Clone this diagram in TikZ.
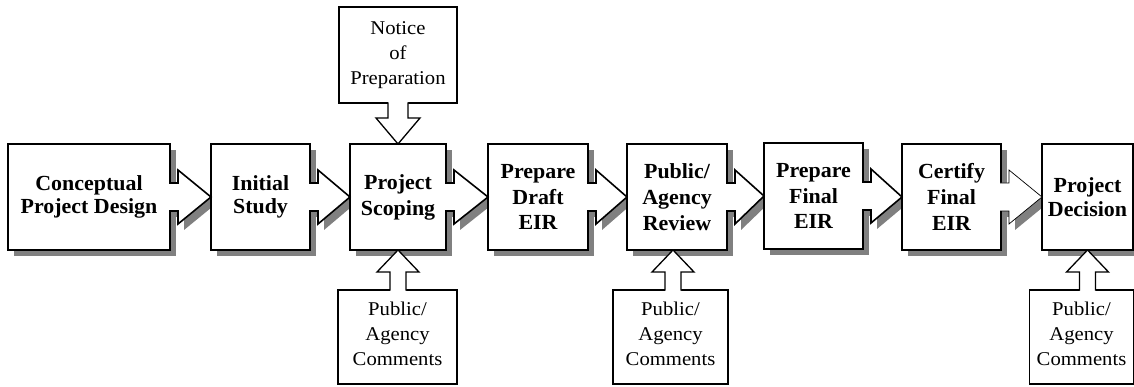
\documentclass[tikz,border=0pt]{standalone}
\usepackage{fontspec}
\setmainfont{Liberation Serif}
\newfontfamily\callfont[FakeStretch=1.06]{Liberation Serif}
\newfontfamily\boxfont[FakeStretch=1.02]{Liberation Serif}
\usetikzlibrary{calc}
\pgfdeclarelayer{bg}
\pgfsetlayers{bg,main}
\tikzset{
  mainbox/.style={draw=black, line width=1.6pt, fill=white, rectangle, inner sep=0pt, outer sep=0pt,
    minimum height=106pt, align=center, font=\boxfont\bfseries\fontsize{21.5}{23.5}\selectfont},
  threeline/.style={font=\boxfont\bfseries\fontsize{21.5}{25.8}\selectfont},
  callbox/.style={draw=black, line width=1.3pt, fill=white, rectangle, inner sep=0pt, outer sep=0pt,
    align=center, font=\callfont\fontsize{19.5}{25}\selectfont},
  shadowfill/.style={fill=black!50},
  arrowline/.style={draw=black, line join=miter},
}
\newcommand\harrow[3][1.6pt]{%
  \begin{pgfonlayer}{bg}
    \fill[shadowfill, transform canvas={shift={(6pt,-6pt)}}] ($(#2.east)+(-1,-14)$) -- ++(9,0) -- ++(0,-13) -- (#3.west) -- ($(#2.east)+(8,27)$) -- ++(0,-13) -- ++(-9,0) -- cycle;
  \end{pgfonlayer}
  \fill[white] ($(#2.east)+(-1,-14)$) -- ++(9,0) -- ++(0,-13) -- (#3.west) -- ($(#2.east)+(8,27)$) -- ++(0,-13) -- ++(-9,0) -- cycle;
  \draw[arrowline, line width=#1] ($(#2.east)+(-0.8,-14)$) -- ++(8.8,0) -- ++(0,-13) -- (#3.west) -- ($(#2.east)+(8,27)$) -- ++(0,-13) -- ++(-8.8,0);
}
\newcommand\boxshadow[1]{%
  \begin{pgfonlayer}{bg}
    \fill[shadowfill] ($(#1.south west)+(6,6)$) rectangle ($(#1.north east)+(6,6)$);
  \end{pgfonlayer}
}
% arrow from a callout below up to a main box
\newcommand\uparrowc[3][0]{%
  \coordinate (#3p) at ($(#2.south |- #3.north)+(#1,0)$);
  \coordinate (#3t) at ($(#2.south)+(#1,0)$);
  \fill[white] ($(#3p)+(-8,1)$) -- ($(#3p)+(-8,-18)$) -- ($(#3p)+(-21,-18)$) -- (#3t) -- ($(#3p)+(21,-18)$) -- ($(#3p)+(8,-18)$) -- ($(#3p)+(8,1)$) -- cycle;
  \draw[arrowline, line width=1.3pt] ($(#3p)+(-8,0.65)$) -- ($(#3p)+(-8,-18)$) -- ($(#3p)+(-21,-18)$) -- (#3t) -- ($(#3p)+(21,-18)$) -- ($(#3p)+(8,-18)$) -- ($(#3p)+(8,0.65)$);
}
\begin{document}
\begin{tikzpicture}[x=1pt,y=-1pt]
\useasboundingbox (0,0) rectangle (1134,387);
\clip (0,0) rectangle (1134,387);
% main boxes
\node[mainbox, minimum width=162pt] (b1) at (89,197) {Conceptual\\Project Design};
\node[mainbox, minimum width=99pt] (b2) at (260.5,197) {Initial\\Study};
\node[mainbox, minimum width=96pt, font=\boxfont\bfseries\fontsize{21.5}{26}\selectfont] (b3) at (398,197) {Project\\Scoping};
\node[mainbox, threeline, minimum width=100pt] (b4) at (538,197) {Prepare\\Draft\\EIR};
\node[mainbox, threeline, minimum width=100pt] (b5) at (677,197) {Public/\\Agency\\Review};
\node[mainbox, threeline, minimum width=99pt] (b6) at (813.5,196) {Prepare\\Final\\EIR};
\node[mainbox, threeline, minimum width=99pt] (b7) at (951.5,197) {Certify\\Final\\EIR};
\node[mainbox, minimum width=91pt] (b8) at (1087.5,197) {Project\\Decision};
% callouts
\node[callbox, minimum width=118pt, minimum height=96pt] (n1) at (398,55) {Notice\\of\\Preparation};
\node[callbox, minimum width=119pt, minimum height=94pt, text depth=6pt] (c1) at (397.5,337) {Public/\\Agency\\Comments};
\node[callbox, minimum width=115pt, minimum height=94pt, text depth=6pt] (c2) at (670.5,337) {Public/\\Agency\\Comments};
\node[callbox, minimum width=104pt, minimum height=94pt, text depth=6pt] (c3) at (1081.5,337) {Public/\\Agency\\Comments};
% shadows
\boxshadow{b1}\boxshadow{b2}\boxshadow{b3}\boxshadow{b4}
\boxshadow{b5}\boxshadow{b6}\boxshadow{b7}\boxshadow{b8}
% horizontal arrows
\harrow{b1}{b2}
\harrow{b2}{b3}
\harrow{b3}{b4}
\harrow{b4}{b5}
\harrow{b5}{b6}
\harrow{b6}{b7}
\harrow[0.7pt]{b7}{b8}
% top callout arrow
\coordinate (n1p) at (b3.north |- n1.south);
\fill[white] ($(n1p)+(-10,-1)$) -- ($(n1p)+(-10,15)$) -- ($(n1p)+(-22,15)$) -- (b3.north) -- ($(n1p)+(22,15)$) -- ($(n1p)+(10,15)$) -- ($(n1p)+(10,-1)$) -- cycle;
\draw[arrowline, line width=1.3pt] ($(n1p)+(-10,-0.65)$) -- ($(n1p)+(-10,15)$) -- ($(n1p)+(-22,15)$) -- (b3.north) -- ($(n1p)+(22,15)$) -- ($(n1p)+(10,15)$) -- ($(n1p)+(10,-0.65)$);
% bottom callout arrows
\uparrowc{b3}{c1}
\uparrowc[-4]{b5}{c2}
\uparrowc{b8}{c3}
\end{tikzpicture}
\end{document}
